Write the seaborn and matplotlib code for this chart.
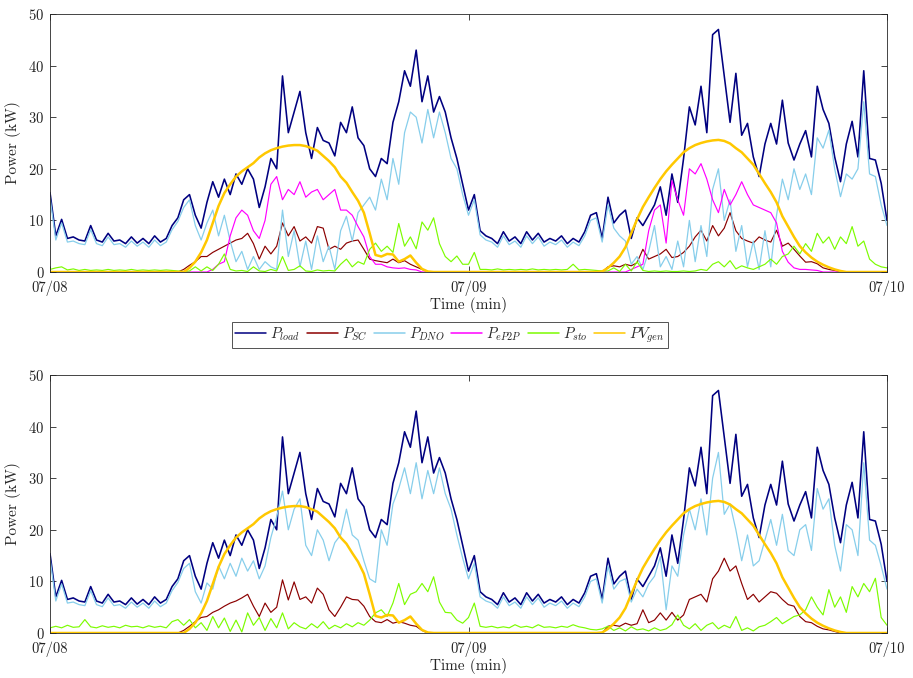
import numpy as np
import pandas as pd
import matplotlib
matplotlib.use("Agg")
import matplotlib.pyplot as plt
import seaborn as sns

# ---------------- data (20-minute samples, kW) ----------------
time_min = np.arange(0, 2881, 20)
tick_pos = [0, 1440, 2880]
tick_labels = ["07/08", "07/09", "07/10"]

p_load = [
    15.4, 7.0, 10.2, 6.5, 6.8, 6.2, 6.0, 9.0, 6.2, 5.8, 7.5, 6.0,
    6.2, 5.5, 6.8, 5.6, 6.5, 5.5, 7.0, 5.8, 6.5, 9.0, 10.5, 14.0,
    15.0, 11.0, 8.5, 13.5, 17.5, 14.5, 18.0, 15.0, 19.0, 17.0, 20.0, 18.0,
    12.5, 16.5, 22.0, 20.0, 38.0, 27.0, 31.0, 35.0, 27.0, 22.0, 28.0, 25.5,
    25.0, 22.5, 29.0, 27.0, 32.0, 26.0, 24.5, 20.0, 18.5, 22.0, 21.0, 29.0,
    33.0, 39.0, 36.0, 43.0, 33.0, 38.0, 31.0, 34.0, 31.0, 26.0, 22.0, 17.0,
    12.0, 15.0, 8.0, 7.0, 6.5, 5.5, 7.8, 6.0, 6.8, 5.5, 7.8, 6.2,
    7.5, 5.8, 6.5, 6.0, 7.0, 5.5, 6.5, 5.8, 7.8, 11.0, 11.5, 6.5,
    14.5, 9.5, 11.0, 12.0, 6.5, 10.5, 9.0, 11.0, 13.0, 16.5, 11.0, 19.0,
    13.5, 22.0, 32.0, 28.5, 36.0, 27.0, 46.0, 47.0, 38.0, 29.0, 38.5, 26.5,
    28.8, 22.3, 18.5, 24.8, 28.8, 24.8, 33.3, 25.0, 21.7, 24.8, 27.4, 22.3,
    36.0, 31.5, 28.8, 22.3, 17.5, 24.8, 29.2, 22.3, 39.0, 22.0, 21.7, 17.2,
    10.0]

pv_gen = [
    0, 0, 0, 0, 0, 0, 0, 0, 0, 0, 0, 0,
    0, 0, 0, 0, 0, 0, 0, 0, 0, 0, 0, 0,
    0.8, 2.0, 3.8, 6.2, 9.5, 12.8, 15.3, 17.0, 18.5, 19.5, 20.3, 21.1,
    22.2, 23.0, 23.6, 24.0, 24.3, 24.5, 24.6, 24.6, 24.4, 24.0, 23.5, 22.5,
    21.5, 20.3, 18.5, 17.3, 15.5, 13.8, 11.5, 7.5, 3.3, 3.0, 3.5, 3.4,
    2.0, 2.5, 3.2, 1.8, 0.6, 0.1, 0, 0, 0, 0, 0, 0,
    0, 0, 0, 0, 0, 0, 0, 0, 0, 0, 0, 0,
    0, 0, 0, 0, 0, 0, 0, 0, 0, 0, 0, 0.1,
    0.8, 1.8, 3.0, 4.8, 7.5, 10.2, 12.6, 14.5, 16.3, 18.0, 19.5, 20.8,
    22.0, 23.2, 24.0, 24.6, 25.0, 25.3, 25.5, 25.6, 25.4, 24.9, 24.0, 23.2,
    22.0, 20.8, 19.0, 17.2, 15.5, 13.5, 10.8, 8.8, 6.8, 5.0, 3.8, 2.8,
    2.0, 1.4, 0.9, 0.5, 0.2, 0, 0, 0, 0, 0, 0, 0,
    0]

# top panel (with P2P)
p_sc_1 = [
    0, 0, 0, 0, 0, 0, 0, 0, 0, 0, 0, 0,
    0, 0, 0, 0, 0, 0, 0, 0, 0, 0, 0, 0.5,
    1.3, 2.0, 3.0, 3.0, 3.8, 4.4, 5.0, 5.6, 6.2, 6.5, 7.5, 5.5,
    2.5, 5.0, 3.5, 5.0, 9.5, 7.0, 8.8, 6.0, 6.8, 5.6, 8.8, 8.5,
    4.4, 5.0, 4.4, 5.6, 6.0, 6.2, 4.4, 2.5, 2.2, 2.0, 1.8, 2.5,
    1.8, 2.2, 1.5, 1.0, 0.5, 0, 0, 0, 0, 0, 0, 0,
    0, 0, 0, 0, 0, 0, 0, 0, 0, 0, 0, 0,
    0, 0, 0, 0, 0, 0, 0, 0, 0, 0, 0, 0,
    1.0, 1.2, 1.0, 1.5, 1.2, 1.8, 4.4, 2.5, 3.0, 3.5, 4.4, 2.8,
    3.0, 3.8, 5.0, 6.8, 8.1, 6.0, 9.0, 7.0, 8.5, 11.5, 8.0, 6.5,
    6.0, 5.6, 6.8, 6.2, 5.8, 8.1, 5.0, 5.6, 4.4, 3.1, 1.9, 2.0,
    1.6, 0.8, 0.5, 0.3, 0, 0, 0, 0, 0, 0, 0, 0,
    0]

p_dno_1 = [
    14.5, 6.2, 9.5, 5.8, 6.0, 5.5, 5.3, 8.2, 5.5, 5.1, 6.8, 5.3,
    5.5, 4.8, 6.0, 5.0, 5.8, 4.8, 6.2, 5.1, 5.8, 8.2, 9.8, 12.5,
    14.0, 9.0, 6.2, 9.5, 12.0, 7.0, 11.0, 6.0, 2.0, 4.0, 0.5, 3.0,
    0.5, 2.0, 1.0, 0.5, 12.0, 3.0, 8.0, 1.0, 6.0, 0.5, 7.0, 2.0,
    5.0, 0.5, 8.0, 10.8, 6.0, 11.5, 13.0, 14.5, 12.0, 18.0, 14.0, 22.0,
    17.0, 27.0, 31.0, 30.0, 25.0, 31.5, 26.0, 31.0, 27.0, 22.0, 20.0, 15.0,
    11.0, 14.0, 7.2, 6.2, 5.8, 4.8, 7.0, 5.3, 6.0, 4.8, 7.0, 5.5,
    6.8, 5.0, 5.8, 5.3, 6.2, 4.8, 5.8, 5.1, 7.0, 10.0, 10.5, 5.8,
    13.0, 8.5, 7.0, 6.0, 1.5, 3.0, 0.5, 4.0, 9.0, 1.0, 3.0, 0.5,
    6.0, 1.0, 10.0, 2.0, 9.0, 3.0, 16.0, 20.0, 10.0, 14.0, 4.0, 9.0,
    1.0, 6.0, 0.5, 8.0, 1.0, 11.0, 18.0, 14.0, 20.0, 16.0, 19.0, 15.0,
    26.0, 24.0, 27.5, 20.0, 14.6, 19.0, 18.0, 20.0, 33.0, 19.0, 18.5, 13.0,
    9.0]

p_p2p_1 = [
    0, 0, 0, 0, 0, 0, 0, 0, 0, 0, 0, 0,
    0, 0, 0, 0, 0, 0, 0, 0, 0, 0, 0, 0,
    0, 0, 0, 0, 0.5, 1.5, 2.0, 7.0, 10.5, 12.0, 11.0, 8.0,
    6.5, 10.0, 17.0, 18.5, 14.0, 16.0, 15.0, 17.5, 14.5, 15.5, 16.0, 14.0,
    15.0, 16.0, 12.0, 12.0, 11.0, 8.8, 6.8, 3.0, 1.5, 1.5, 1.0, 0.8,
    0.7, 0.8, 0.5, 0.4, 0, 0, 0, 0, 0, 0, 0, 0,
    0, 0, 0, 0, 0, 0, 0, 0, 0, 0, 0, 0,
    0, 0, 0, 0, 0, 0, 0, 0, 0, 0, 0, 0,
    0, 0, 0, 0, 0.5, 1.0, 1.5, 8.0, 12.0, 13.0, 5.6, 17.7,
    14.0, 11.0, 20.0, 19.0, 21.0, 18.0, 14.0, 11.5, 16.0, 13.0, 15.0, 17.5,
    15.0, 13.0, 12.5, 12.0, 11.5, 9.5, 4.0, 1.9, 0.8, 0.5, 0.5, 0.4,
    0.3, 0, 0, 0, 0, 0, 0, 0, 0, 0, 0, 0,
    0]

p_sto_1 = [
    0.5, 0.8, 1.0, 0.4, 0.6, 0.3, 0.5, 0.3, 0.4, 0.3, 0.5, 0.3,
    0.4, 0.3, 0.5, 0.3, 0.4, 0.3, 0.4, 0.3, 0.4, 0.3, 0.2, 0.1,
    0.2, 1.0, 0.2, 1.0, 0.3, 1.5, 3.5, 0.5, 0.2, 0.3, 0.1, 1.0,
    0.2, 0.1, 0.5, 0.2, 3.0, 0.3, 0.5, 1.2, 0.2, 0.1, 0.4, 0.2,
    0.3, 0.2, 1.5, 2.5, 1.0, 2.0, 1.5, 4.4, 5.6, 4.0, 5.0, 3.8,
    9.4, 5.0, 6.8, 4.5, 9.7, 8.1, 10.5, 5.5, 3.0, 2.0, 3.1, 1.5,
    1.5, 3.8, 0.5, 0.5, 0.4, 0.6, 0.4, 0.5, 0.4, 0.5, 0.4, 0.6,
    0.4, 0.5, 0.4, 0.5, 0.4, 0.5, 1.5, 0.4, 0.5, 0.4, 0.3, 0.2,
    0.2, 0.8, 0.1, 1.5, 0.2, 2.0, 0.3, 0.1, 0.2, 0.1, 0.2, 0.1,
    0.1, 0.2, 0.1, 0.2, 0.5, 0.3, 1.5, 2.0, 1.0, 2.2, 0.6, 1.2,
    0.8, 0.5, 1.0, 1.5, 2.5, 1.5, 3.0, 3.5, 5.0, 3.5, 5.5, 4.0,
    7.5, 5.6, 6.8, 4.4, 6.8, 5.5, 8.8, 5.0, 6.0, 2.5, 1.5, 1.0,
    0.8]

# bottom panel (no P2P)
p_sc_2 = [
    0, 0, 0, 0, 0, 0, 0, 0, 0, 0, 0, 0,
    0, 0, 0, 0, 0, 0, 0, 0, 0, 0, 0, 0.5,
    1.3, 2.2, 3.0, 3.2, 4.0, 4.5, 5.2, 5.8, 6.2, 6.8, 7.5, 5.2,
    3.2, 5.8, 4.0, 5.0, 10.3, 6.4, 9.9, 6.5, 7.0, 5.8, 8.7, 7.5,
    4.5, 3.2, 5.0, 7.0, 6.5, 6.4, 5.2, 3.2, 2.2, 2.0, 2.6, 1.9,
    2.2, 1.9, 1.5, 1.3, 0.5, 0, 0, 0, 0, 0, 0, 0,
    0, 0, 0, 0, 0, 0, 0, 0, 0, 0, 0, 0,
    0, 0, 0, 0, 0, 0, 0, 0, 0, 0, 0, 0,
    1.3, 1.5, 1.3, 1.9, 1.5, 1.8, 4.5, 2.0, 2.5, 3.9, 2.5, 4.0,
    2.5, 3.5, 6.5, 7.0, 7.5, 6.0, 10.5, 12.0, 14.5, 12.0, 13.0, 9.6,
    6.5, 7.5, 6.0, 7.0, 8.0, 7.7, 6.5, 5.5, 5.2, 3.2, 2.2, 2.0,
    1.3, 0.8, 0.6, 0.3, 0, 0, 0, 0, 0, 0, 0, 0,
    0]

p_dno_2 = [
    14.5, 6.2, 9.5, 5.8, 6.0, 5.5, 5.3, 8.2, 5.5, 5.1, 6.8, 5.3,
    5.5, 4.8, 6.0, 5.0, 5.8, 4.8, 6.2, 5.1, 5.8, 8.2, 9.8, 12.5,
    13.5, 8.0, 5.8, 9.7, 8.5, 13.0, 10.5, 13.5, 11.0, 14.5, 12.0, 14.0,
    10.5, 13.0, 18.5, 22.5, 27.5, 20.0, 24.0, 26.0, 17.0, 15.0, 20.0, 18.0,
    14.0, 17.5, 19.0, 24.0, 19.0, 18.0, 14.0, 10.5, 9.8, 20.0, 17.0, 25.0,
    28.0, 32.0, 27.0, 33.0, 26.0, 31.5, 27.0, 32.0, 27.0, 24.0, 19.0, 14.5,
    10.5, 13.5, 7.0, 6.2, 5.8, 4.8, 7.0, 5.3, 6.0, 4.8, 7.0, 5.5,
    6.8, 5.0, 5.8, 5.3, 6.2, 4.8, 5.8, 5.1, 7.0, 10.0, 10.5, 5.8,
    13.0, 8.5, 10.0, 10.5, 6.0, 8.5, 7.0, 9.5, 11.0, 14.8, 4.5, 13.0,
    11.0, 19.0, 24.0, 20.0, 26.0, 19.0, 30.0, 35.0, 23.0, 25.0, 20.0, 14.0,
    19.0, 13.0, 14.0, 18.0, 22.0, 17.0, 23.0, 16.0, 15.0, 20.0, 21.0, 16.0,
    28.0, 24.0, 26.0, 17.0, 12.0, 21.0, 20.0, 15.0, 33.0, 18.0, 17.0, 13.0,
    8.5]

p_sto_2 = [
    1.0, 1.3, 1.0, 1.5, 1.1, 1.2, 2.6, 1.2, 1.0, 1.4, 1.1, 1.3,
    1.0, 1.5, 1.2, 1.3, 1.0, 1.4, 1.1, 1.3, 1.0, 2.2, 2.6, 1.5,
    2.6, 1.0, 2.0, 0.5, 3.2, 1.0, 2.9, 0.3, 2.5, 0.2, 3.9, 1.5,
    3.0, 0.5, 2.8, 1.0, 3.9, 0.8, 2.0, 1.2, 0.8, 1.8, 1.0, 2.2,
    0.8, 1.5, 1.0, 1.8, 1.2, 2.0, 1.5, 2.5, 3.9, 4.5, 3.2, 5.8,
    9.6, 5.5, 7.5, 8.0, 9.6, 8.0, 10.9, 6.0, 4.0, 3.9, 2.5, 1.9,
    3.0, 5.8, 1.3, 1.1, 1.3, 1.0, 1.2, 1.0, 1.6, 1.1, 1.3, 1.0,
    1.6, 1.1, 1.2, 1.0, 1.3, 1.1, 1.6, 1.2, 1.0, 0.7, 0.6, 0.8,
    1.3, 0.5, 1.0, 0.4, 1.2, 0.6, 0.8, 0.4, 1.0, 0.5, 0.8, 1.6,
    3.5, 1.5, 0.8, 1.8, 0.5, 1.5, 2.0, 0.8, 1.5, 1.0, 3.2, 0.5,
    1.0, 0.4, 1.2, 1.5, 2.2, 3.0, 1.8, 2.5, 3.2, 3.5, 4.5, 7.0,
    5.0, 3.5, 8.4, 5.0, 7.0, 4.0, 9.0, 7.0, 9.6, 8.0, 10.6, 3.0,
    1.5]

# ---------------- style ----------------
sns.set_theme(style="ticks")
plt.rcParams["font.family"] = ["cmr10", "DejaVu Serif"]
plt.rcParams["mathtext.fontset"] = "cm"
plt.rcParams["axes.formatter.use_mathtext"] = True
plt.rcParams["axes.unicode_minus"] = False

colors = {
    "load": "#000080", "sc": "#8B0000", "dno": "#87CEEB",
    "p2p": "#FF00FF", "sto": "#7CFC00", "pv": "#FFC800",
}
labels = {
    "load": r"$P_{load}$", "sc": r"$P_{SC}$", "dno": r"$P_{DNO}$",
    "p2p": r"$P_{eP2P}$", "sto": r"$P_{sto}$", "pv": r"$PV_{gen}$",
}
widths = {"load": 1.15, "sc": 0.85, "dno": 0.9, "p2p": 0.85, "sto": 0.85, "pv": 1.8}

top = pd.DataFrame({"t": time_min, "load": p_load, "sc": p_sc_1, "dno": p_dno_1,
                    "p2p": p_p2p_1, "sto": p_sto_1, "pv": pv_gen})
bot = pd.DataFrame({"t": time_min, "load": p_load, "sc": p_sc_2, "dno": p_dno_2,
                    "sto": p_sto_2, "pv": pv_gen})

fig = plt.figure(figsize=(9.13, 6.78), dpi=100)
ax1 = fig.add_axes([50 / 913, 1 - 272 / 678, 837 / 913, 258 / 678])
ax2 = fig.add_axes([50 / 913, 1 - 633 / 678, 837 / 913, 258 / 678])

edge = "#262626"
for ax, df, keys in [(ax1, top, ["load", "sc", "dno", "p2p", "sto", "pv"]),
                     (ax2, bot, ["load", "sc", "dno", "sto", "pv"])]:
    for k in keys:
        sns.lineplot(data=df, x="t", y=k, ax=ax, color=colors[k], lw=widths[k],
                     label=labels[k], legend=False)
    ax.set_xlim(0, 2880)
    ax.set_ylim(0, 50)
    ax.set_xticks(tick_pos)
    ax.set_xticklabels(tick_labels)
    ax.set_yticks([0, 10, 20, 30, 40, 50])
    ax.set_xlabel("Time (min)", fontsize=11, labelpad=1)
    ax.set_ylabel("Power (kW)", fontsize=11, labelpad=5)
    ax.tick_params(direction="in", top=True, right=True, length=4, width=0.6,
                   colors=edge, labelcolor="#222222", labelsize=10.5)
    ax.tick_params(axis="x", pad=6)
    ax.tick_params(axis="y", pad=4)
    for s in ax.spines.values():
        s.set_color(edge)
        s.set_linewidth(0.6)
        s.set_visible(True)

handles, labs = ax1.get_legend_handles_labels()
leg = fig.legend(handles, labs, loc="center", ncol=6,
                 bbox_to_anchor=(450 / 913, 1 - 335 / 678),
                 frameon=True, fancybox=False, edgecolor="#262626",
                 fontsize=10.5, handlelength=2.1, handletextpad=0.3,
                 columnspacing=0.45, borderpad=0.25, borderaxespad=0)
leg.get_frame().set_linewidth(0.7)
for h in leg.get_lines():
    h.set_linewidth(1.1)

fig.savefig("out.png", dpi=100)
